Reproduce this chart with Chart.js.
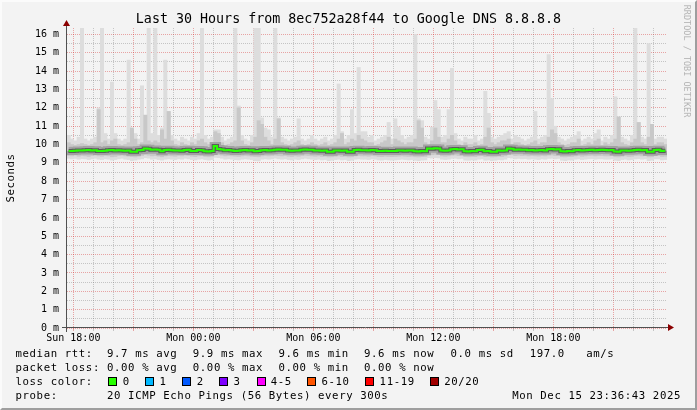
<!DOCTYPE html>
<html><head><meta charset="utf-8">
<script src="https://cdn.jsdelivr.net/npm/chart.js@4/dist/chart.umd.min.js"></script>
<style>
html,body{margin:0;padding:0;background:#f3f3f3;}
#wrap{position:relative;width:697px;height:410px;background:#f3f3f3;overflow:hidden;}
#c{position:absolute;left:0;top:0;}
.t{position:absolute;font-family:'DejaVu Sans Mono',monospace;font-size:10.7px;letter-spacing:0.6px;line-height:12px;white-space:pre;color:#000;}
.sw{position:absolute;width:7px;height:7px;border:1px solid #000;}
#title{position:absolute;left:0;top:11.4px;width:697px;text-align:center;font-family:'DejaVu Sans Mono',monospace;font-size:13.33px;line-height:16px;white-space:pre;color:#000;}
#ylab{left:-39px;top:172px;width:100px;text-align:center;transform:rotate(-90deg);}
#credit{position:absolute;left:617px;top:56px;width:140px;text-align:center;transform:rotate(90deg);font-family:'DejaVu Sans Mono',monospace;font-size:8.5px;line-height:10px;color:#b4b4b4;white-space:pre;}
#frame{position:absolute;left:0;top:0;width:693px;height:406px;border:2px solid;border-color:#fbfbfb #9e9e9e #9e9e9e #fbfbfb;pointer-events:none;}
</style></head>
<body>
<div id="wrap">
<canvas id="c" width="697" height="410" style="width:697px;height:410px"></canvas>
<div id="title"></div>
<div class="t" id="ylab"></div>
<div id="credit"></div>
<div id="legend"></div>
<div id="frame"></div>
</div>
<script>
// ---- data (ms), one value per 10-minute bin ----
const median = [
9.65,9.64,9.66,9.67,9.68,9.69,9.70,9.68,9.69,9.65,9.64,9.66,
9.69,9.70,9.68,9.69,9.67,9.66,9.67,9.60,9.61,9.69,9.70,9.78,
9.77,9.72,9.73,9.71,9.63,9.70,9.71,9.69,9.67,9.68,9.66,9.70,
9.71,9.65,9.64,9.70,9.69,9.63,9.62,9.64,9.92,9.76,9.73,9.69,
9.70,9.68,9.65,9.66,9.69,9.70,9.68,9.69,9.63,9.64,9.69,9.70,
9.68,9.69,9.72,9.73,9.71,9.72,9.67,9.66,9.68,9.67,9.72,9.73,
9.71,9.72,9.67,9.68,9.66,9.67,9.60,9.61,9.67,9.68,9.66,9.67,
9.60,9.61,9.70,9.71,9.69,9.69,9.68,9.70,9.69,9.65,9.64,9.66,
9.65,9.64,9.65,9.67,9.68,9.66,9.67,9.68,9.63,9.62,9.64,9.63,
9.78,9.77,9.79,9.78,9.67,9.66,9.68,9.74,9.75,9.73,9.74,9.63,
9.62,9.64,9.63,9.70,9.71,9.63,9.64,9.60,9.61,9.67,9.66,9.68,
9.78,9.77,9.72,9.73,9.71,9.72,9.69,9.70,9.68,9.69,9.70,9.68,
9.74,9.75,9.73,9.74,9.63,9.62,9.64,9.63,9.69,9.70,9.68,9.69,
9.70,9.71,9.69,9.70,9.71,9.70,9.69,9.70,9.62,9.61,9.67,9.68,
9.66,9.67,9.70,9.71,9.69,9.70,9.60,9.61,9.70,9.71,9.65,9.66];

const smokeMax = [
10.5,10.3,10.2,10.4,16.4,10.3,10.2,10.3,10.4,12.0,16.4,10.6,
10.3,13.4,10.6,10.3,10.2,10.3,14.6,10.9,10.6,10.3,13.2,11.6,
16.4,10.6,16.4,10.5,10.9,14.6,11.8,10.5,10.3,10.2,10.4,10.3,
10.2,10.4,10.3,10.6,16.4,10.5,10.3,10.4,10.8,10.8,10.4,10.2,
10.3,10.4,16.4,12.1,10.5,10.3,10.2,10.5,16.4,16.4,11.45,10.9,
10.8,10.4,16.4,11.45,10.4,10.3,10.2,10.3,10.4,11.4,10.3,10.2,
10.3,10.5,10.3,10.2,10.3,10.4,10.2,10.3,10.5,13.3,10.7,10.3,
10.5,11.9,10.6,14.2,10.7,10.7,10.4,10.5,10.2,10.3,10.4,10.5,
11.2,10.3,11.4,10.95,10.5,10.3,10.4,10.5,16.0,11.4,11.3,10.4,
10.3,10.95,12.4,11.9,10.4,10.5,11.9,14.15,10.6,10.3,10.2,10.4,
10.3,10.3,10.5,10.2,10.3,12.9,11.7,10.4,10.3,10.4,10.5,10.6,
10.7,10.3,10.5,10.4,10.3,10.2,10.3,10.4,11.8,10.3,10.4,10.5,
14.9,12.5,11.0,10.4,10.3,10.2,10.3,10.4,10.5,10.7,10.2,10.3,
10.4,10.3,10.6,10.8,10.2,10.4,10.3,10.5,12.6,11.5,10.4,10.3,
10.2,10.5,16.4,11.2,10.4,10.3,15.5,11.1,10.3,10.4,10.4,10.3];

const smokeHi = [
10.1,10.0,9.95,10.0,10.05,10.0,9.95,10.0,10.1,11.9,10.1,10.2,
10.0,10.2,10.3,10.0,9.95,10.0,10.1,10.9,10.3,10.0,10.1,11.6,
10.2,10.1,10.2,10.1,10.8,10.3,11.8,10.2,10.0,9.95,10.1,10.0,
9.95,10.1,10.0,10.2,10.3,10.1,10.0,10.1,10.7,10.6,10.1,9.95,
10.0,10.1,10.2,12.0,10.2,10.0,9.95,10.1,10.4,11.3,11.1,10.4,
10.2,10.0,10.3,11.4,10.1,10.0,9.95,10.0,10.1,10.2,10.0,9.95,
10.0,10.1,10.0,9.95,10.0,10.1,9.95,10.0,10.1,10.3,10.6,10.0,
10.1,10.3,10.2,10.5,10.3,10.2,10.1,10.1,9.95,10.0,10.1,10.2,
10.4,10.0,10.3,10.2,10.1,10.0,10.1,10.1,10.3,11.3,10.9,10.1,
10.0,10.2,10.9,10.4,10.1,10.1,10.3,10.5,10.2,10.0,9.95,10.1,
10.0,10.0,10.1,9.95,10.0,10.4,10.9,10.1,10.0,10.1,10.2,10.2,
10.3,10.0,10.1,10.1,10.0,9.95,10.0,10.1,10.2,10.0,10.1,10.1,
10.4,10.8,10.6,10.1,10.0,9.95,10.0,10.1,10.1,10.3,9.95,10.0,
10.1,10.0,10.2,10.3,9.95,10.1,10.0,10.1,10.3,11.5,10.1,10.0,
9.95,10.1,10.3,11.2,10.1,10.0,10.4,11.1,10.0,10.1,10.1,10.0];

const smokeLo = [
9.40,9.38,9.42,9.36,9.40,9.38,9.35,9.40,9.42,9.38,9.36,9.40,
9.38,9.33,9.35,9.40,9.42,9.38,9.36,9.34,9.32,9.36,9.40,9.45,
9.42,9.38,9.40,9.36,9.33,9.38,9.40,9.38,9.36,9.40,9.38,9.42,
9.40,9.36,9.34,9.38,9.40,9.35,9.33,9.36,9.50,9.45,9.42,9.38,
9.40,9.38,9.36,9.35,9.38,9.40,9.38,9.36,9.34,9.33,9.38,9.40,
9.38,9.40,9.42,9.40,9.38,9.40,9.36,9.35,9.38,9.36,9.40,9.42,
9.40,9.38,9.36,9.38,9.35,9.36,9.32,9.33,9.36,9.38,9.35,9.36,
9.32,9.33,9.38,9.40,9.38,9.38,9.36,9.40,9.38,9.35,9.34,9.36,
9.35,9.34,9.35,9.36,9.38,9.36,9.35,9.36,9.33,9.32,9.34,9.35,
9.45,9.44,9.46,9.45,9.38,9.36,9.38,9.42,9.43,9.40,9.42,9.34,
9.33,9.35,9.34,9.38,9.40,9.34,9.35,9.32,9.33,9.36,9.35,9.38,
9.45,9.44,9.40,9.42,9.40,9.41,9.38,9.40,9.38,9.37,9.40,9.38,
9.42,9.43,9.40,9.42,9.33,9.32,9.34,9.35,9.38,9.40,9.36,9.38,
9.40,9.41,9.38,9.40,9.40,9.38,9.38,9.40,9.33,9.32,9.36,9.38,
9.35,9.36,9.40,9.41,9.38,9.40,9.32,9.33,9.40,9.40,9.35,9.36];

const smokeMin = [
9.25,9.22,9.24,9.20,9.23,9.22,9.18,9.22,9.25,9.20,9.18,9.22,
9.20,9.15,9.18,9.22,9.25,9.20,9.18,9.12,9.15,9.20,9.22,9.28,
9.25,9.20,9.22,9.18,9.15,9.20,9.22,9.20,9.18,9.22,9.20,9.25,
9.22,9.18,9.16,9.20,9.22,9.18,9.15,9.18,9.30,9.28,9.25,9.20,
9.22,9.20,9.18,9.16,9.20,9.22,9.20,9.18,9.12,9.10,9.20,9.22,
9.20,9.22,9.25,9.22,9.20,9.22,9.18,9.16,9.20,9.18,9.22,9.25,
9.22,9.20,9.18,9.20,9.16,9.18,9.12,9.14,9.18,9.20,9.16,9.18,
9.12,9.14,9.20,9.22,9.20,9.20,9.18,9.22,9.20,9.16,9.15,9.18,
9.16,9.15,9.16,9.18,9.20,9.18,9.16,9.18,9.14,9.12,9.15,9.16,
9.28,9.26,9.28,9.27,9.20,9.18,9.20,9.24,9.25,9.22,9.24,9.15,
9.14,9.16,9.15,9.20,9.22,9.14,9.16,9.12,9.14,9.18,9.16,9.20,
9.28,9.26,9.22,9.24,9.22,9.23,9.20,9.22,9.20,9.18,9.22,9.20,
9.24,9.25,9.22,9.24,9.14,9.12,9.16,9.15,9.20,9.22,9.18,9.20,
9.22,9.23,9.20,9.22,9.22,9.20,9.20,9.22,9.14,9.12,9.18,9.20,
9.16,9.18,9.22,9.23,9.20,9.22,9.12,9.14,9.22,9.22,9.16,9.18];

const binMinutes = 10;           // sample spacing
const spanMinutes = 1800;        // 30 hours
const firstHourAt = 19;          // minutes from start to Sun 18:00
const xTickLabels = ['Sun 18:00','Mon 00:00','Mon 06:00','Mon 12:00','Mon 18:00'];
const yMax = 16.35;
const yTickStep = 0.5;

const titleText = 'Last 30 Hours from 8ec752a28f44 to Google DNS 8.8.8.8';
const rttStats = ['9.7 ms avg','9.9 ms max','9.6 ms min','9.6 ms now','0.0 ms sd','197.0','am/s'];
const lossStats = ['0.00 % avg','0.00 % max','0.00 % min','0.00 % now'];
const lossLabels = ['0','1','2','3','4-5','6-10','11-19','20/20'];
const lossColors = ['#26ff00','#00b8ff','#0059ff','#7e00ff','#ff00ff','#ff5500','#ff0000','#a10000'];
const probeText = '20 ICMP Echo Pings (56 Bytes) every 300s';
const stampText = 'Mon Dec 15 23:36:43 2025';

// ---- text around the chart ----
document.getElementById('title').textContent = titleText;
document.getElementById('ylab').textContent = 'Seconds';
document.getElementById('credit').textContent = 'RRDTOOL / TOBI OETIKER';
const leg = document.getElementById('legend');
function txt(s, x, baseline, right){
  const d = document.createElement('div'); d.className = 't'; d.textContent = s;
  if (right !== undefined) d.style.right = right + 'px'; else d.style.left = x + 'px';
  d.style.top = (baseline - 9.7) + 'px'; leg.appendChild(d); return d;
}
const rows = [357.5, 371.5, 385.5, 399.5];
const colX = [107, 192.8, 278.5, 364, 450.5, 529.7, 586.2];
txt('median rtt:', 15.5, rows[0]);
rttStats.forEach((s,i)=>txt(s, colX[i], rows[0]));
txt('packet loss:', 15.5, rows[1]);
lossStats.forEach((s,i)=>txt(s, colX[i], rows[1]));
txt('loss color:', 15.5, rows[2]);
const swX = [108,145,182,219,256.5,307,365,430];
const lbX = [122.8,159.6,196.8,233.6,270.8,321.4,379.6,444.2];
lossLabels.forEach((s,i)=>{
  const b = document.createElement('div'); b.className = 'sw';
  b.style.left = swX[i] + 'px'; b.style.top = '377px'; b.style.background = lossColors[i];
  leg.appendChild(b);
  txt(s, lbX[i], rows[2]);
});
txt('probe:', 15.5, rows[3]);
txt(probeText, colX[0], rows[3]);
txt(stampText, 0, rows[3], 16);

// ---- chart ----
const centers = median.map((_, i) => i * binMinutes + binMinutes / 2);
const pts = arr => arr.map((v, i) => ({x: centers[i], y: v}));
const band = (lo, hi) => lo.map((v, i) => ({x: centers[i], y: [v, hi[i]]}));

const RED = 'rgba(205,0,0,0.33)';
const GRAY = 'rgba(90,90,90,0.30)';
const FONT = {family: "'DejaVu Sans Mono', monospace", size: 10};
const isMajorX = c => !!(c && c.tick) && Math.round((c.tick.value - firstHourAt) / 60) % 3 === 0;
const isMajorY = c => !!(c && c.tick) && Number.isInteger(c.tick.value);

const axesPlugin = {
  id: 'rrdAxes',
  afterDraw(chart){
    const {ctx, chartArea: a} = chart;
    const xl = a.left - 0.5, yb = a.bottom - 0.5;
    ctx.save();
    ctx.strokeStyle = '#505050'; ctx.lineWidth = 1;
    ctx.beginPath();
    ctx.moveTo(xl, a.bottom + 4); ctx.lineTo(xl, a.top - 3);
    ctx.moveTo(a.left - 5, yb); ctx.lineTo(a.right + 2, yb);
    ctx.stroke();
    ctx.fillStyle = '#8b0000';
    ctx.beginPath();
    ctx.moveTo(xl - 3.5, a.top - 2); ctx.lineTo(xl + 3.5, a.top - 2); ctx.lineTo(xl, a.top - 8);
    ctx.closePath(); ctx.fill();
    ctx.beginPath();
    ctx.moveTo(a.right + 1, yb - 3.5); ctx.lineTo(a.right + 1, yb + 3.5); ctx.lineTo(a.right + 7, yb);
    ctx.closePath(); ctx.fill();
    ctx.restore();
  }
};

new Chart(document.getElementById('c'), {
  type: 'bar',
  data: {
    datasets: [
      {type:'line', data: pts(median), borderColor:'#26ff00', borderWidth:2, stepped:'middle', pointRadius:0, order:0},
      {type:'line', data: pts(median), borderColor:'#5c5c5c', borderWidth:4, stepped:'middle', pointRadius:0, order:1},
      {type:'line', data: pts(median), borderColor:'#a2a2a2', borderWidth:8, stepped:'middle', pointRadius:0, order:2},
      {type:'bar', data: band(smokeLo, smokeHi), backgroundColor:'#c8c8c8', borderWidth:0, grouped:false, barPercentage:1, categoryPercentage:1, order:3},
      {type:'bar', data: band(smokeMin, smokeMax), backgroundColor:'#dddddd', borderWidth:0, grouped:false, barPercentage:1, categoryPercentage:1, order:4}
    ]
  },
  options: {
    responsive: false, animation: false, devicePixelRatio: 1, events: [],
    layout: {padding: {top: 28, right: 30, left: 0, bottom: 0}},
    plugins: {legend: {display:false}, tooltip: {enabled:false}, title: {display:false}},
    scales: {
      x: {
        type: 'linear', min: 0, max: spanMinutes, z: 1, offset: false,
        afterFit: s => { s.height = 82; },
        afterBuildTicks: s => {
          const t = [];
          for (let v = firstHourAt; v <= spanMinutes; v += 60) t.push({value: v});
          s.ticks = t;
        },
        grid: {
          offset: false,
          color: c => (isMajorX(c) ? RED : GRAY),
          tickColor: c => (isMajorX(c) ? RED : GRAY),
          lineWidth: 1, drawTicks: true, tickLength: 3
        },
        border: {display: false, dash: [1, 1]},
        ticks: {
          autoSkip: false, maxRotation: 0, minRotation: 0, padding: 1, color: '#000', font: FONT,
          callback: v => { const k = Math.round((v - firstHourAt) / 60); return k % 6 === 0 ? xTickLabels[k / 6] : ''; }
        }
      },
      y: {
        type: 'linear', min: 0, max: yMax, z: 1,
        afterFit: s => { s.width = 67; },
        afterBuildTicks: s => {
          const t = [];
          for (let v = 0; v <= 16; v += yTickStep) t.push({value: v});
          s.ticks = t;
        },
        grid: {
          color: c => (isMajorY(c) ? RED : GRAY),
          lineWidth: 1, drawTicks: false
        },
        border: {display: false, dash: [1, 1]},
        ticks: {
          autoSkip: false, padding: 8, color: '#000', font: FONT,
          callback: v => (Number.isInteger(v) ? v + ' m' : '')
        }
      }
    }
  },
  plugins: [axesPlugin]
});
</script>
</body></html>
